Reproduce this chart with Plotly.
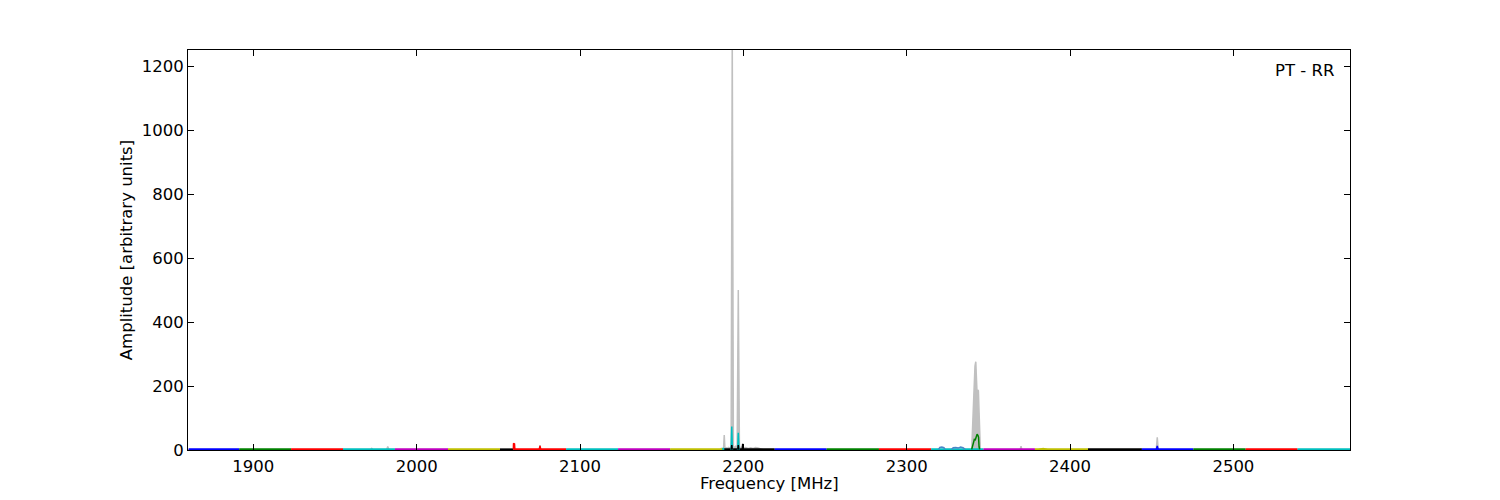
import plotly.graph_objects as go

# ---------------- data ----------------
# frequency bands (MHz) of the individual scans, drawn as near-zero baselines
band_start = [1860.4, 1891.4, 1923.1, 1954.9, 1986.7, 2019.2, 2051.0, 2059.2,
              2091.5, 2123.3, 2155.2, 2187.4, 2219.2, 2251.0, 2283.0, 2315.0,
              2347.0, 2378.5, 2411.0, 2444.0, 2475.5, 2507.5, 2539.3]
band_end = [1891.4, 1923.1, 1954.9, 1986.7, 2019.2, 2051.0, 2059.2, 2091.5,
            2123.3, 2155.2, 2187.4, 2219.2, 2251.0, 2283.0, 2315.0, 2347.0,
            2378.5, 2411.0, 2444.0, 2475.5, 2507.5, 2539.3, 2571.4]
band_level = [2, 2, 2, 2, 2, 2, 2, 2, 2, 2, 2, 2, 2, 2, 2, 2, 2, 2, 2, 2, 2, 2, 2]
band_color = ["b", "g", "r", "c", "m", "y", "k", "r", "c", "m", "y", "k",
              "b", "g", "r", "c", "m", "y", "k", "b", "g", "r", "c"]

# full spectrum (grey)
gray_freq = [1860.0, 1971.8, 1972.5, 1973.2, 1981.6, 1982.3, 1983.0,
             2075.0, 2075.5, 2076.0,
             2186.0, 2186.5, 2187.3, 2187.9, 2188.3, 2188.7, 2189.5, 2190.3,
             2191.0, 2191.6, 2192.5, 2193.2, 2193.9, 2194.6, 2195.3, 2196.2,
             2196.9, 2197.6, 2198.4, 2199.2, 2200.0, 2201.5, 2203.0, 2204.5,
             2206.0, 2207.5, 2209.0, 2210.5, 2212.0,
             2339.8, 2340.3, 2340.8, 2341.3, 2341.8, 2342.3, 2342.7, 2343.1,
             2343.5, 2343.9, 2344.3, 2344.7, 2345.1,
             2369.5, 2370.0, 2370.5,
             2452.8, 2453.4, 2454.0, 2571.4]
gray_amp = [1, 1, 5, 1, 1, 11, 1,
            1, 15, 1,
            1, 5, 3, 8, 47, 6, 7, 5,
            8, 6, 10, 1300, 10, 8, 12, 9,
            500, 10, 7, 9, 6, 8, 5, 7,
            5, 8, 6, 3, 1,
            1, 60, 150, 220, 262, 276, 230, 175,
            188, 185, 120, 30, 1,
            1, 12, 1,
            1, 40, 1, 1]

# narrow features of individual scans
cyan_freq = [2187.2, 2187.7, 2188.2, None, 2192.5, 2192.9, 2193.3, None, 2196.5, 2196.9, 2197.3]
cyan_amp = [1, 6, 1, None, 1, 73, 1, None, 1, 54, 1]

black_freq = [2192.6, 2192.9, 2193.2, None, 2196.6, 2196.9, 2197.2, None, 2199.3, 2199.6, 2199.9]
black_amp = [1, 15, 1, None, 1, 15, 1, None, 1, 19, 1]

red_freq = [2059.2, 2059.3, 2059.9, 2060.1, None, 2075.1, 2075.5, 2075.9]
red_amp = [2, 21, 19, 2, None, 2, 13, 2]

green_freq = [2339.8, 2340.8, 2341.4, 2342.0, 2342.6, 2343.1, 2343.6, 2344.0, 2344.3, 2344.7]
green_amp = [2, 25, 33, 32, 40, 49, 46, 40, 10, 2]

steel_freq = [2319.5, 2320.3, 2321.5, 2322.8, 2323.5, None, 2327.5, 2328.5,
              2330.0, 2331.5, 2333.0, 2334.5, 2335.8]
steel_amp = [2, 8, 9, 7, 2, None, 2, 7, 8, 6, 9, 7, 2]

blue_freq = [2452.9, 2453.4, 2453.9]
blue_amp = [2, 13, 2]

yellow_freq = [2381.0, 2383.5, 2386.0]
yellow_amp = [2, 5, 2]

x_ticks = [1900, 2000, 2100, 2200, 2300, 2400, 2500]
y_ticks = [0, 200, 400, 600, 800, 1000, 1200]

# ---------------- style ----------------
cmap = {"b": "#0000ff", "g": "#008000", "r": "#ff0000", "c": "#00bfbf",
        "m": "#bf00bf", "y": "#bfbf00", "k": "#000000"}
FONT = "DejaVu Sans"
FS = 16.5

fig = go.Figure()

fig.add_trace(go.Scatter(x=gray_freq, y=gray_amp, mode="lines",
                         line=dict(color="#c0c0c0", width=1.5),
                         fill="tozeroy", fillcolor="#c0c0c0", hoverinfo="skip"))

for s, e, lv, c in zip(band_start, band_end, band_level, band_color):
    fig.add_trace(go.Scatter(x=[s, e], y=[lv, lv], mode="lines",
                             line=dict(color=cmap[c], width=2), hoverinfo="skip"))

def feat(xs, ys, color):
    fig.add_trace(go.Scatter(x=xs, y=ys, mode="lines", connectgaps=False,
                             line=dict(color=color, width=1.5), hoverinfo="skip"))

feat(yellow_freq, yellow_amp, cmap["y"])
feat(steel_freq, steel_amp, "#4a86c8")
feat(red_freq, red_amp, cmap["r"])
feat(cyan_freq, cyan_amp, cmap["c"])
feat(black_freq, black_amp, cmap["k"])
feat(green_freq, green_amp, cmap["g"])
feat(blue_freq, blue_amp, cmap["b"])

axis_common = dict(showline=True, linecolor="black", linewidth=1, mirror="ticks",
                   ticks="inside", ticklen=6, tickcolor="black", tickwidth=1,
                   showgrid=False, zeroline=False,
                   tickfont=dict(family=FONT, size=FS, color="black"))

fig.update_layout(
    width=1500, height=500,
    margin=dict(l=188, r=150, t=50, b=50),
    paper_bgcolor="white", plot_bgcolor="white",
    showlegend=False,
    font=dict(family=FONT, size=FS, color="black"),
    xaxis=dict(range=[1860, 2571.4], tickvals=x_ticks,
               ticktext=[str(v) for v in x_ticks], ticklabelstandoff=1,
               **axis_common),
    yaxis=dict(range=[0, 1250], tickvals=y_ticks,
               ticktext=[str(v) for v in y_ticks],
               title=dict(text="Amplitude [arbitrary units]", standoff=4,
                          font=dict(family=FONT, size=FS)),
               **axis_common),
    annotations=[
        dict(text="PT - RR", xref="paper", yref="paper",
             x=0.988, y=0.95, xanchor="right", yanchor="middle",
             showarrow=False, font=dict(family=FONT, size=FS)),
        dict(text="Frequency [MHz]", xref="paper", yref="paper",
             x=0.5, y=0, xanchor="center", yanchor="top", yshift=-22,
             showarrow=False, font=dict(family=FONT, size=FS)),
    ],
)

fig.write_html("out.html", config={"displayModeBar": False},
               post_script="document.body.style.margin='0';document.body.style.padding='0';")
